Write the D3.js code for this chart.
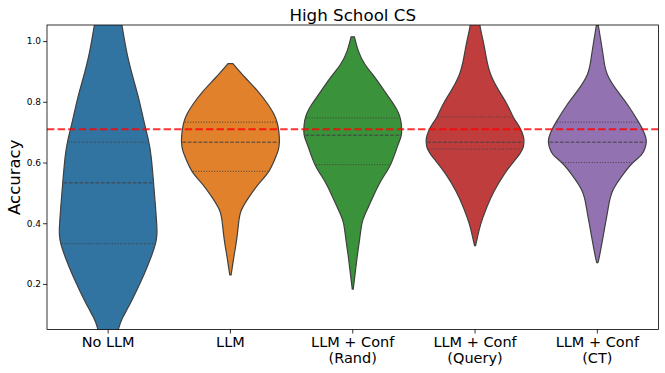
<!DOCTYPE html>
<html>
<head>
<meta charset="utf-8">
<script src="https://cdn.jsdelivr.net/npm/d3@7/dist/d3.min.js"></script>
<style>
  body { margin: 0; background: #fff; }
  svg { font-family: "DejaVu Sans", sans-serif; }
</style>
</head>
<body>
<svg width="665" height="373"></svg>
<script>
// groups along the x axis
const categories = ["No LLM", "LLM", "LLM + Conf\n(Rand)", "LLM + Conf\n(Query)", "LLM + Conf\n(CT)"];
const palette = ["#3274a1", "#e1812c", "#3a923a", "#c03d3e", "#9372b2"];

// [lower quartile, median, upper quartile]
const quartiles = [
  [0.333, 0.533, 0.667],
  [0.571, 0.667, 0.733],
  [0.593, 0.690, 0.747],
  [0.644, 0.667, 0.750],
  [0.600, 0.667, 0.733]
];

// density outlines: [accuracy, relative half width]
const densNoLLM = [[1.10,0.22],[1.049,0.285],[0.959,0.387],[0.871,0.523],[0.805,0.633],[0.739,0.727],[0.673,0.824],[0.616,0.881],[0.534,0.928],[0.452,0.969],[0.39,0.995],[0.36,0.995],[0.331,0.965],[0.287,0.874],[0.233,0.737],[0.178,0.58],[0.123,0.41],[0.09,0.30],[0.052,0.212],[0.0,0.14]];
const densLLM = [[0.926,0.05],[0.88,0.30],[0.836,0.553],[0.792,0.765],[0.759,0.89],[0.731,0.955],[0.70,0.99],[0.667,1.0],[0.64,0.975],[0.616,0.92],[0.571,0.785],[0.529,0.573],[0.485,0.375],[0.441,0.218],[0.397,0.164],[0.342,0.123],[0.287,0.068],[0.230,0.014]];
const densRand = [[1.014,0.034],[0.967,0.116],[0.923,0.252],[0.88,0.456],[0.836,0.646],[0.792,0.837],[0.765,0.93],[0.74,0.98],[0.71,1.0],[0.685,0.985],[0.649,0.905],[0.592,0.769],[0.54,0.578],[0.485,0.408],[0.43,0.252],[0.397,0.184],[0.342,0.136],[0.287,0.088],[0.233,0.048],[0.183,0.01]];
const densQuery = [[1.10,0.07],[1.049,0.102],[1.002,0.163],[0.945,0.231],[0.89,0.32],[0.836,0.49],[0.792,0.653],[0.75,0.78],[0.73,0.86],[0.71,0.93],[0.69,0.98],[0.672,1.0],[0.655,0.99],[0.643,0.965],[0.625,0.90],[0.605,0.80],[0.562,0.599],[0.507,0.395],[0.452,0.238],[0.397,0.116],[0.353,0.048],[0.326,0.01]];
const densCT = [[1.052,0.02],[1.002,0.071],[0.945,0.126],[0.89,0.204],[0.836,0.408],[0.792,0.612],[0.733,0.844],[0.704,0.94],[0.685,0.985],[0.667,1.0],[0.648,0.975],[0.625,0.90],[0.6,0.73],[0.562,0.531],[0.507,0.313],[0.452,0.224],[0.397,0.163],[0.342,0.102],[0.287,0.037],[0.27,0.01]];
const densities = [densNoLLM, densLLM, densRand, densQuery, densCT];

const yTicks = [0.2, 0.4, 0.6, 0.8, 1.0];
const refLine = 0.71;

const svg = d3.select("svg");
const mLeft = 47, mRight = 658.5, mTop = 25, mBottom = 329.5;

const x = d3.scaleBand().domain(d3.range(categories.length)).range([mLeft, mRight]).padding(0);
const y = d3.scaleLinear().domain([0.05, 1.053]).range([mBottom, mTop]);
const maxHalf = x.bandwidth() * 0.4;

svg.append("defs").append("clipPath").attr("id", "plot")
  .append("rect").attr("x", mLeft).attr("y", mTop).attr("width", mRight - mLeft).attr("height", mBottom - mTop);

const g = svg.append("g").attr("clip-path", "url(#plot)");

densities.forEach((dens, i) => {
  const cx = x(i) + x.bandwidth() / 2;
  const area = d3.area()
    .y(d => y(d[0]))
    .x0(d => cx - d[1] * maxHalf)
    .x1(d => cx + d[1] * maxHalf)
    .curve(d3.curveNatural);
  g.append("path")
    .attr("d", area(dens))
    .attr("fill", palette[i])
    .attr("stroke", "#404040")
    .attr("stroke-width", 1.2);

  const sorted = dens.slice().sort((a, b) => a[0] - b[0]);
  const widthAt = d3.scaleLinear().domain(sorted.map(d => d[0])).range(sorted.map(d => d[1]));
  quartiles[i].forEach((q, k) => {
    const w = widthAt(q) * maxHalf - 1;
    g.append("line")
      .attr("x1", cx - w).attr("x2", cx + w)
      .attr("y1", y(q)).attr("y2", y(q))
      .attr("stroke", "#404040")
      .attr("stroke-width", 1)
      .attr("stroke-dasharray", k === 1 ? "3.7,1.6" : "1,1.65");
  });
});

// reference line
g.append("line")
  .attr("x1", mLeft).attr("x2", mRight)
  .attr("y1", y(refLine)).attr("y2", y(refLine))
  .attr("stroke", "#ff0000")
  .attr("stroke-opacity", 0.8)
  .attr("stroke-width", 2)
  .attr("stroke-dasharray", "7.4,3.2");

// frame
svg.append("rect")
  .attr("x", mLeft).attr("y", mTop)
  .attr("width", mRight - mLeft).attr("height", mBottom - mTop)
  .attr("fill", "none").attr("stroke", "#000").attr("stroke-width", 0.8);

// y axis
const yAxis = svg.append("g").attr("transform", `translate(${mLeft},0)`)
  .call(d3.axisLeft(y).tickValues(yTicks).tickFormat(d3.format(".1f")).tickSize(4).tickPadding(2));
yAxis.select(".domain").remove();
yAxis.selectAll("line").attr("stroke", "#000").attr("stroke-width", 0.8);
yAxis.selectAll("text").attr("font-size", 9).attr("fill", "#000").attr("font-family", "DejaVu Sans");

// x axis
const xAxis = svg.append("g").attr("transform", `translate(0,${mBottom})`)
  .call(d3.axisBottom(x).tickSize(4).tickFormat(""));
xAxis.select(".domain").remove();
xAxis.selectAll("line").attr("stroke", "#000").attr("stroke-width", 0.8);

categories.forEach((c, i) => {
  const t = svg.append("text")
    .attr("x", x(i) + x.bandwidth() / 2)
    .attr("y", 346.5)
    .attr("text-anchor", "middle")
    .attr("font-size", 14.5)
    .attr("fill", "#000");
  c.split("\n").forEach((line, k) => {
    t.append("tspan").attr("x", x(i) + x.bandwidth() / 2).attr("dy", k === 0 ? 0 : 16.5).text(line);
  });
});

// title and label
svg.append("text")
  .attr("x", (mLeft + mRight) / 2).attr("y", 20.5)
  .attr("text-anchor", "middle").attr("font-size", 16.7).attr("fill", "#000")
  .text("High School CS");

svg.append("text")
  .attr("transform", `translate(19.5,${(mTop + mBottom) / 2}) rotate(-90)`)
  .attr("text-anchor", "middle").attr("font-size", 16.5).attr("fill", "#000")
  .text("Accuracy");
</script>
</body>
</html>
